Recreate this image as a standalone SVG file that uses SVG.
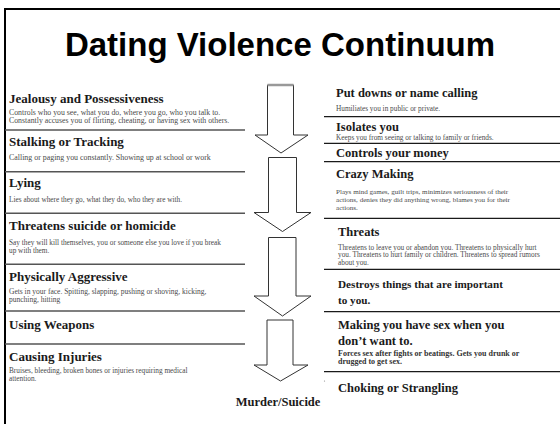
<svg xmlns="http://www.w3.org/2000/svg" width="560" height="424" viewBox="0 0 560 424">
<style>
.title{font-family:"Liberation Sans",Arial,sans-serif;font-weight:bold;font-size:33px;fill:#000}
.h{font-family:"Liberation Serif","Times New Roman",serif;font-weight:bold;font-size:13px;fill:#1a1a1a}
.hr{font-family:"Liberation Serif","Times New Roman",serif;font-weight:bold;font-size:12.5px;fill:#1a1a1a}
.d{font-family:"Liberation Serif","Times New Roman",serif;font-size:7.3px;fill:#4a4a4a}
.db{font-family:"Liberation Serif","Times New Roman",serif;font-weight:bold;font-size:8px;fill:#333}
.sepL{stroke:#555;stroke-width:1.6}
.sepR{stroke:#1a1a1a;stroke-width:1.3}
.arrow{fill:#fff;stroke:#333;stroke-width:1}
</style>
<rect width="560" height="424" fill="#fff"/>
<g id="frame">
<line x1="4" y1="9" x2="560" y2="9" stroke="#000" stroke-width="2"/>
<line x1="5" y1="8" x2="5" y2="424" stroke="#000" stroke-width="2"/>
</g>
<text class="title" x="280" y="56" text-anchor="middle">Dating Violence Continuum</text>

<g id="connectors">
<polygon class="arrow" points="267.5,85 293.5,85 293.5,135 308,135 281,153 255,135 267.5,135"/>
<line x1="267.5" y1="85" x2="293.5" y2="85" stroke="#999" stroke-width="2.5"/>
<polygon class="arrow" points="268.5,157.5 296.5,157.5 296.5,212.5 311,212.5 282.5,231.5 254,212.5 268.5,212.5"/>
<polygon class="arrow" points="268.5,237.5 296,237.5 296,296 311,296 282.5,316 254,296 268.5,296"/>
<polygon class="arrow" points="267,320 293,320 293,365 308,365 280.5,381 254,365 267,365"/>
</g>

<g id="left-separators">
<line class="sepL" x1="5" y1="130" x2="245" y2="130"/>
<line class="sepL" x1="5" y1="171.7" x2="245" y2="171.7"/>
<line class="sepL" x1="5" y1="213.3" x2="245" y2="213.3"/>
<line class="sepL" x1="5" y1="264.3" x2="245" y2="264.3"/>
<line class="sepL" x1="5" y1="311" x2="245" y2="311"/>
<line class="sepL" x1="5" y1="344" x2="245" y2="344"/>
</g>
<g id="right-separators">
<line class="sepR" x1="324" y1="116.7" x2="560" y2="116.7"/>
<line class="sepR" x1="324" y1="143.3" x2="560" y2="143.3"/>
<line class="sepR" x1="324" y1="161.7" x2="560" y2="161.7"/>
<line class="sepR" x1="324" y1="218.3" x2="560" y2="218.3"/>
<line class="sepR" x1="324" y1="269.3" x2="560" y2="269.3"/>
<line class="sepR" x1="324" y1="311.7" x2="560" y2="311.7"/>
<line class="sepR" x1="324" y1="371.7" x2="560" y2="371.7"/>
</g>

<g id="jealousy">
<text class="h" x="9" y="103">Jealousy and Possessiveness</text>
<text class="d" x="9" y="115" style="font-size:7.8px">Controls who you see, what you do, where you go, who you talk to.</text>
<text class="d" x="9" y="122.5" style="font-size:7.8px">Constantly accuses you of  flirting, cheating, or having sex with others.</text>
</g>
<g id="stalking">
<text class="h" x="9" y="146">Stalking or Tracking</text>
<text class="d" x="9" y="160" style="font-size:7.9px">Calling  or paging you constantly.  Showing up at school or work</text>
</g>
<g id="lying">
<text class="h" x="9" y="187">Lying</text>
<text class="d" x="9" y="202">Lies about where they go, what they do, who they are with.</text>
</g>
<g id="threatens">
<text class="h" x="9" y="230">Threatens suicide or homicide</text>
<text class="d" x="9" y="245">Say they will kill themselves, you or someone else you love if you break</text>
<text class="d" x="9" y="252.5">up with them.</text>
</g>
<g id="physically">
<text class="h" x="9" y="281">Physically Aggressive</text>
<text class="d" x="9" y="294" style="font-size:7.5px">Gets in your face.  Spitting, slapping, pushing or shoving, kicking,</text>
<text class="d" x="9" y="301.5" style="font-size:7.5px">punching, hitting</text>
</g>
<g id="weapons">
<text class="h" x="9" y="329">Using Weapons</text>
</g>
<g id="injuries">
<text class="h" x="9" y="361">Causing Injuries</text>
<text class="d" x="9" y="373">Bruises, bleeding, broken bones or injuries requiring medical</text>
<text class="d" x="9" y="380.5">attention.</text>
</g>
<g id="murder">
<text class="hr" x="278" y="406" text-anchor="middle">Murder/Suicide</text>
</g>

<g id="putdowns">
<text class="hr" x="336" y="97">Put downs or name calling</text>
<text class="d" x="336" y="111">Humiliates you in public or private.</text>
</g>
<g id="isolates">
<text class="hr" x="336" y="131">Isolates you</text>
<text class="d" x="336" y="140">Keeps you from seeing or talking to family or friends.</text>
</g>
<g id="money">
<text class="hr" x="336" y="157">Controls your money</text>
</g>
<g id="crazy">
<text class="hr" x="336" y="178">Crazy Making</text>
<text class="d" x="336" y="194" style="font-size:7.1px">Plays mind games, guilt trips, minimizes seriousness of  their</text>
<text class="d" x="336" y="202" style="font-size:7.1px">actions, denies they did anything wrong, blames you for their</text>
<text class="d" x="336" y="210" style="font-size:7.1px">actions.</text>
</g>
<g id="threats">
<text class="hr" x="338" y="236">Threats</text>
<text class="d" x="338" y="249.5">Threatens to leave you or abandon you.  Threatens to physically hurt</text>
<text class="d" x="338" y="257">you.  Threatens to hurt family or children.  Threatens to spread rumors</text>
<text class="d" x="338" y="264.5">about you.</text>
</g>
<g id="destroys">
<text class="hr" x="338" y="288" style="font-size:11.2px">Destroys things that are important</text>
<text class="hr" x="338" y="304" style="font-size:11.2px">to you.</text>
</g>
<g id="sex">
<text class="hr" x="338" y="329">Making you have sex when you</text>
<text class="hr" x="338" y="345">don’t want to.</text>
<text class="db" x="338" y="356">Forces sex after fights or beatings.  Gets you drunk or</text>
<text class="db" x="338" y="364">drugged to get sex.</text>
</g>
<circle cx="324.5" cy="381" r="0.6" fill="#888"/>
<g id="choking">
<text class="hr" x="338" y="392">Choking or Strangling</text>
</g>
</svg>
